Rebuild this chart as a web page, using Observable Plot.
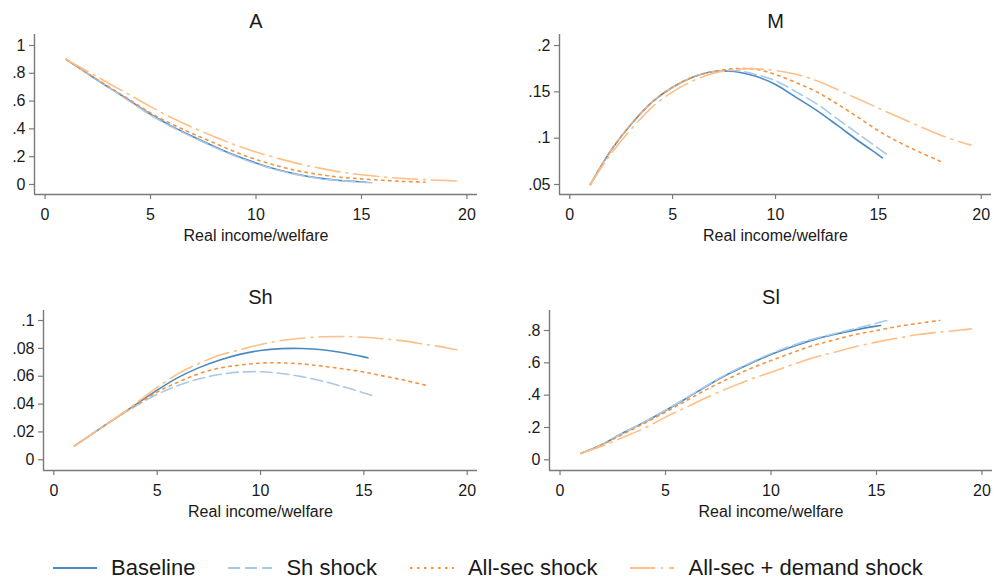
<!DOCTYPE html>
<html>
<head>
<meta charset="utf-8">
<script src="https://cdn.jsdelivr.net/npm/d3@7"></script>
<script src="https://cdn.jsdelivr.net/npm/@observablehq/plot@0.6"></script>
<style>
  html, body { margin: 0; padding: 0; background: #fff; }
  #chart { position: relative; width: 998px; height: 582px; background: #fff; font-family: "Liberation Sans", Arial, sans-serif; }
  #chart svg { position: absolute; }
  #legend { position: absolute; left: 53px; top: 554px; height: 28px; display: flex; align-items: center; font-size: 22px; color: #1a1a1a; white-space: nowrap; }
  #legend .item { display: flex; align-items: center; margin-right: 33px; }
  #legend .item svg { position: static; margin-right: 14px; }
</style>
</head>
<body>
<div id="chart"><div id="legend"></div></div>
<script>
// ---- data ----
const SERIES = ["Baseline", "Sh shock", "All-sec shock", "All-sec + demand shock"];
const PANELS = ["A", "M", "Sh", "Sl"];
const X_LABEL = "Real income/welfare";
const X_TICKS = [0, 5, 10, 15, 20];

const X_BASE = [1,2,3,4,5,6,7,8,9,10,11,12,13,14,15,15.2];
const X_SH   = [1,2,3,4,5,6,7,8,9,10,11,12,13,14,15,15.5];
const X_ALL  = [1,2,3,4,5,6,7,8,9,10,11,12,13,14,15,16,17,18];
const X_DEM  = [1,2,3,4,5,6,7,8,9,10,11,12,13,14,15,16,17,18,19,19.5];

// Panel A
const A_TICKS = [0, .2, .4, .6, .8, 1];
const A_BASE = [.90,.80,.70,.605,.505,.42,.345,.275,.21,.155,.108,.072,.046,.029,.019,.017];
const A_SH   = [.90,.80,.70,.60,.50,.415,.34,.27,.205,.15,.104,.069,.043,.027,.017,.013];
const A_ALL  = [.90,.80,.705,.61,.515,.435,.365,.30,.235,.18,.135,.098,.072,.052,.04,.03,.022,.017];
const A_DEM  = [.90,.815,.73,.645,.56,.48,.41,.345,.285,.233,.19,.15,.118,.09,.07,.055,.043,.035,.029,.025];

// Panel M
const M_TICKS = [.05, .1, .15, .2];
const M_BASE = [.05,.0867,.1155,.139,.155,.166,.172,.172,.167,.158,.144,.13,.114,.0975,.082,.0788];
const M_SH   = [.05,.0867,.1155,.139,.155,.166,.172,.173,.169,.162,.15,.137,.121,.105,.089,.081];
const M_ALL  = [.05,.0867,.1155,.139,.155,.166,.172,.175,.1745,.1687,.16,.15,.137,.1227,.108,.0957,.085,.0752];
const M_DEM  = [.05,.083,.11,.1335,.15,.162,.17,.174,.175,.173,.169,.162,.1525,.1425,.1325,.1225,.1128,.1035,.0958,.0925];

// Panel Sh
const SH_TICKS = [0, .02, .04, .06, .08, .1];
const SH_BASE = [.01,.02,.03,.04,.05,.059,.066,.0715,.0757,.0785,.0798,.0799,.079,.0769,.0739,.0732];
const SH_SH   = [.01,.02,.03,.039,.047,.0533,.058,.0612,.063,.0632,.062,.0597,.0565,.0525,.048,.0456];
const SH_ALL  = [.01,.02,.03,.0395,.0486,.0557,.0617,.0658,.068,.0694,.0696,.0689,.0672,.0653,.063,.06,.057,.0535];
const SH_DEM  = [.01,.02,.03,.041,.052,.0617,.069,.075,.079,.0828,.0856,.0873,.0883,.0885,.088,.0868,.0852,.0828,.0805,.079];

// Panel Sl
const SL_TICKS = [0, .2, .4, .6, .8];
const SL_BASE = [.04,.095,.167,.233,.305,.381,.46,.532,.594,.652,.70,.742,.775,.804,.827,.831];
const SL_SH   = [.04,.095,.167,.234,.307,.384,.463,.536,.599,.657,.706,.748,.78,.812,.845,.862];
const SL_ALL  = [.04,.093,.16,.226,.295,.367,.439,.503,.563,.614,.662,.707,.742,.775,.80,.825,.845,.862];
const SL_DEM  = [.04,.085,.14,.196,.264,.326,.388,.445,.497,.542,.588,.631,.666,.70,.728,.753,.775,.79,.803,.81];

// ---- styles ----
const COLORS = ["#4a89c2", "#aac8e8", "#f5933f", "#ffbf87"];
const DASHES = [null, "12,5", "2.5,4.5", "25,6,2,6"];
const FONT = "'Liberation Sans', Arial, sans-serif";

const fmt = d => d === 0 ? "0" : String(+d.toFixed(3)).replace(/^0\./, ".");
const zip = (xs, ys) => xs.map((x, i) => ({x, y: ys[i]}));

const panels = [
  {title: PANELS[0], ticks: A_TICKS, ydom: [-0.072, 1.079], ys: [A_BASE, A_SH, A_ALL, A_DEM], left: 0,   top: 0,   ml: 34, mr: 22},
  {title: PANELS[1], ticks: M_TICKS, ydom: [0.0392, 0.2119], ys: [M_BASE, M_SH, M_ALL, M_DEM], left: 499, top: 0,   ml: 60, mr: 7},
  {title: PANELS[2], ticks: SH_TICKS, ydom: [-0.0077, 0.1072], ys: [SH_BASE, SH_SH, SH_ALL, SH_DEM], left: 0, top: 276, ml: 43, mr: 22},
  {title: PANELS[3], ticks: SL_TICKS, ydom: [-0.0662, 0.9238], ys: [SL_BASE, SL_SH, SL_ALL, SL_DEM], left: 499, top: 276, ml: 50, mr: 6}
];
const XS = [X_BASE, X_SH, X_ALL, X_DEM];
const XDOM = [-0.5, 20.5];

const chart = document.getElementById("chart");

for (const p of panels) {
  const lines = p.ys.map((ys, i) => Plot.line(zip(XS[i], ys), {
    x: "x", y: "y", stroke: COLORS[i], strokeWidth: 1.6,
    strokeDasharray: DASHES[i] ?? undefined, curve: "catmull-rom"
  }));
  const svg = Plot.plot({
    width: 499, height: 260,
    marginLeft: p.ml, marginRight: p.mr, marginTop: 34, marginBottom: 66,
    style: {fontFamily: FONT, fontSize: "16px", color: "#1a1a1a", background: "#fff", overflow: "visible"},
    x: {domain: XDOM},
    y: {domain: p.ydom},
    marks: [
      Plot.ruleX([XDOM[0]], {stroke: "#7a7a7a", strokeWidth: 1.4}),
      Plot.ruleY([p.ydom[0]], {stroke: "#7a7a7a", strokeWidth: 1.4}),
      Plot.axisX({ticks: X_TICKS, tickSize: 5, tickPadding: 9, label: null, fontSize: 16, stroke: "#7a7a7a", fill: "#1a1a1a", strokeWidth: 1.2}),
      Plot.axisY({ticks: p.ticks, tickFormat: fmt, tickSize: 5, tickPadding: 4, label: null, fontSize: 16, stroke: "#7a7a7a", fill: "#1a1a1a", strokeWidth: 1.2}),
      ...lines,
      Plot.text([p.title], {frameAnchor: "top", dy: -13, lineAnchor: "middle", fontSize: 20, fill: "#1a1a1a"}),
      Plot.text([X_LABEL], {frameAnchor: "bottom", dy: 41, lineAnchor: "middle", fontSize: 16, fill: "#1a1a1a"})
    ]
  });
  svg.style.left = p.left + "px";
  svg.style.top = p.top + "px";
  chart.appendChild(svg);
}

// legend
const legend = document.getElementById("legend");
SERIES.forEach((name, i) => {
  const item = document.createElement("div");
  item.className = "item";
  const ns = "http://www.w3.org/2000/svg";
  const s = document.createElementNS(ns, "svg");
  s.setAttribute("width", 44); s.setAttribute("height", 6);
  const l = document.createElementNS(ns, "line");
  l.setAttribute("x1", 0); l.setAttribute("x2", 44); l.setAttribute("y1", 3); l.setAttribute("y2", 3);
  l.setAttribute("stroke", COLORS[i]); l.setAttribute("stroke-width", 2);
  if (DASHES[i]) l.setAttribute("stroke-dasharray", DASHES[i]);
  s.appendChild(l);
  const t = document.createElement("span");
  t.textContent = name;
  item.appendChild(s); item.appendChild(t);
  legend.appendChild(item);
});
</script>
</body>
</html>
